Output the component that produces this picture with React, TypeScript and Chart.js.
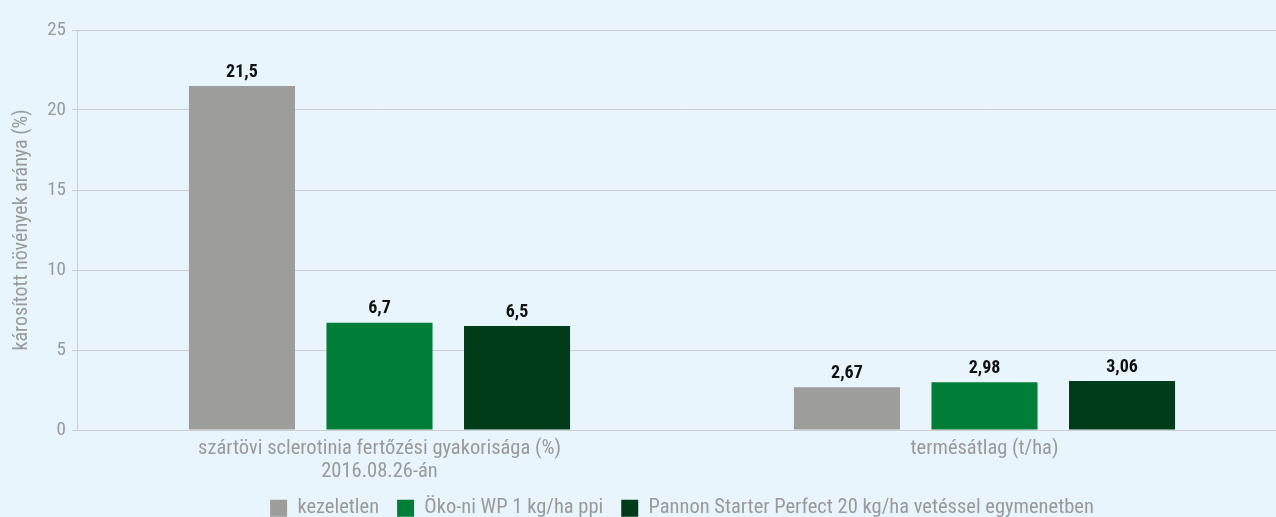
import React, { useEffect, useRef } from "react";
import { Chart, registerables } from "chart.js";

Chart.register(...registerables);

const categories: (string | string[])[] = [
  ["szártövi sclerotinia fertőzési gyakorisága (%)", "2016.08.26-án"],
  "termésátlag (t/ha)",
];
const seriesNames = [
  "kezeletlen",
  "Öko-ni WP 1 kg/ha ppi",
  "Pannon Starter Perfect 20 kg/ha vetéssel egymenetben",
];
const kezeletlen = [21.5, 2.67];
const okoni = [6.7, 2.98];
const pannon = [6.5, 3.06];
const seriesColors = ["#9d9d9b", "#007d36", "#003c1a"];
const yTicks = [0, 5, 10, 15, 20, 25];
const yTitle = "károsított növények aránya (%)";

const FONT = '"Liberation Sans Narrow", "Roboto Condensed", "Liberation Sans", Roboto, sans-serif';
const GREY = "#9a9a9a";
const GRID = "#cfcfcf";

const valueLabels = {
  id: "valueLabels",
  afterDatasetsDraw(chart: any) {
    const ctx = chart.ctx;
    ctx.save();
    ctx.fillStyle = "#111";
    ctx.font = `bold 18px ${FONT}`;
    ctx.textAlign = "center";
    ctx.textBaseline = "bottom";
    chart.data.datasets.forEach((ds: any, i: number) => {
      const meta = chart.getDatasetMeta(i);
      meta.data.forEach((el: any, j: number) => {
        const v = ds.data[j];
        ctx.fillText(String(v).replace(".", ","), el.x, el.y - 5);
      });
    });
    ctx.restore();
  },
};

export default function App() {
  const ref = useRef<HTMLCanvasElement>(null);
  useEffect(() => {
    if (!ref.current) return;
    const chart = new Chart(ref.current, {
      type: "bar",
      data: {
        labels: categories,
        datasets: [kezeletlen, okoni, pannon].map((d, i) => ({
          label: seriesNames[i],
          data: d,
          backgroundColor: seriesColors[i],
          borderWidth: 0,
          categoryPercentage: 0.682,
          barPercentage: 0.771,
        })),
      },
      options: {
        animation: false,
        responsive: false,
        maintainAspectRatio: false,
        layout: { padding: { top: 30, right: 3, bottom: 0, left: 0 } },
        plugins: {
          tooltip: { enabled: false },
          legend: {
            position: "bottom",
            fullSize: false,
            maxHeight: 37,
            labels: {
              color: GREY,
              font: { family: FONT, size: 20.5 },
              boxWidth: 17,
              boxHeight: 17,
              padding: 18,
            },
          },
        },
        scales: {
          x: {
            afterFit(scale: any) {
              scale.height = 50;
            },
            grid: { display: false, drawTicks: false, tickLength: 0 },
            border: { display: true, color: GRID },
            ticks: {
              color: GREY,
              font: { family: FONT, size: 20.5, lineHeight: 1.1 },
              padding: 8,
              maxRotation: 0,
              autoSkip: false,
            },
          },
          y: {
            min: 0,
            max: 25,
            afterBuildTicks(scale: any) {
              scale.ticks = yTicks.map((v) => ({ value: v }));
            },
            afterFit(scale: any) {
              scale.width = 77;
            },
            grid: { color: GRID, tickLength: 5, drawTicks: true },
            border: { display: true, color: GRID },
            ticks: {
              color: GREY,
              font: { family: FONT, size: 19 },
              padding: 6,
            },
            title: {
              display: true,
              text: yTitle,
              color: GREY,
              font: { family: FONT, size: 20 },
              padding: { top: 10, bottom: 0 },
            },
          },
        },
      },
      plugins: [valueLabels],
    });
    return () => chart.destroy();
  }, []);
  return (
    <div
      style={{
        position: "fixed",
        left: 0,
        top: 0,
        width: 1276,
        height: 517,
        overflow: "hidden",
        background: "#e8f5fc",
      }}
    >
      <canvas ref={ref} width={1290} height={517} style={{ display: "block" }} />
    </div>
  );
}
